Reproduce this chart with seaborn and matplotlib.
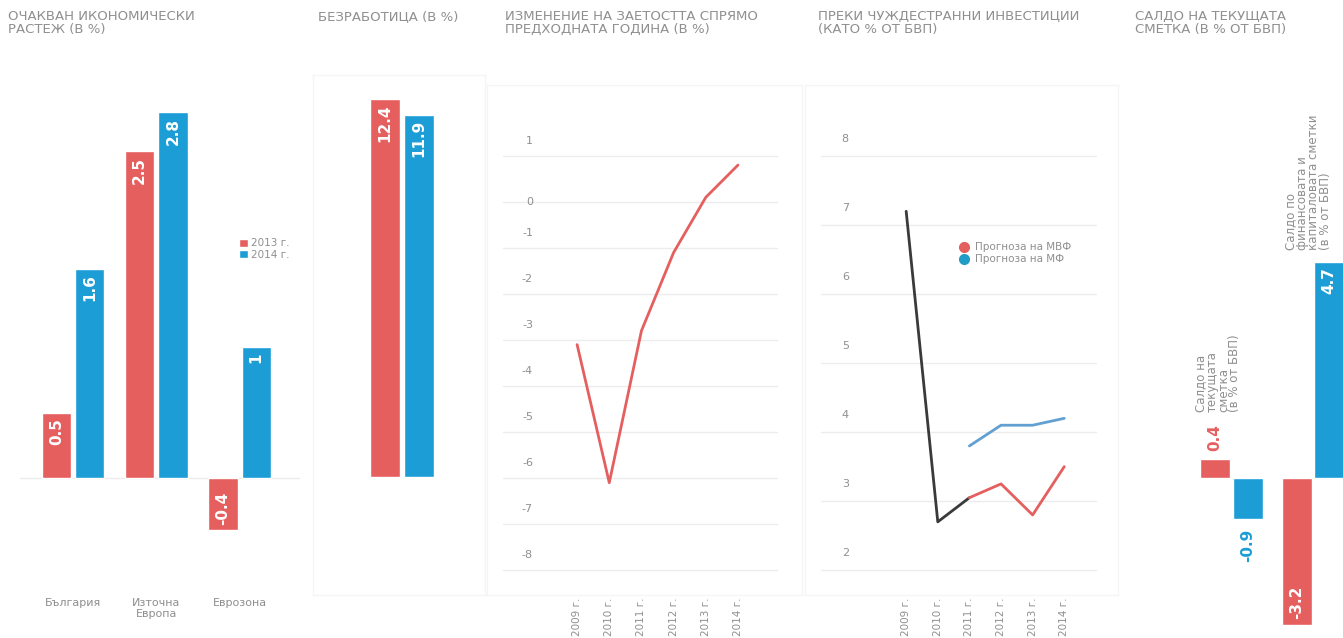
"""
Bulgaria macro indicators - five small panels (growth, unemployment, employment, FDI, current account)
"""

import pandas as pd
import numpy as np
import matplotlib
matplotlib.use('Agg')
import matplotlib.pyplot as plt
from matplotlib.lines import Line2D
import seaborn as sns

# ---- data -------------------------------------------------------------
years_bar = ['2013 г.', '2014 г.']

regions = ['България', 'Източна\nЕвропа', 'Еврозона']
growth_2013 = [0.5, 2.5, -0.4]
growth_2014 = [1.6, 2.8, 1.0]

unemployment = [12.4, 11.9]

years = [2009, 2010, 2011, 2012, 2013, 2014]
year_labels = ['2009 г.', '2010 г.', '2011 г.', '2012 г.', '2013 г.', '2014 г.']
employment_change = [-3.1, -6.1, -2.8, -1.1, 0.1, 0.8]
employment_ticks = [1, 0, -1, -2, -3, -4, -5, -6, -7, -8]

fdi_actual_years = [2009, 2010, 2011]
fdi_actual = [7.2, 2.7, 3.05]
fdi_forecast_years = [2011, 2012, 2013, 2014]
fdi_imf = [3.05, 3.25, 2.8, 3.5]
fdi_mf = [3.8, 4.1, 4.1, 4.2]
fdi_ticks = [8, 7, 6, 5, 4, 3, 2]

balance_groups = ['Салдо на\nтекущата\nсметка\n(в % от БВП)',
                  'Салдо по\nфинансовата и\nкапиталовата сметки\n(в % от БВП)']
balance_red = [0.4, -3.2]
balance_blue = [-0.9, 4.7]

titles = ['ОЧАКВАН ИКОНОМИЧЕСКИ\nРАСТЕЖ (В %)',
          'БЕЗРАБОТИЦА (В %)',
          'ИЗМЕНЕНИЕ НА ЗАЕТОСТТА СПРЯМО\nПРЕДХОДНАТА ГОДИНА (В %)',
          'ПРЕКИ ЧУЖДЕСТРАННИ ИНВЕСТИЦИИ\n(КАТО % ОТ БВП)',
          'САЛДО НА ТЕКУЩАТА\nСМЕТКА (В % ОТ БВП)']

# ---- style ------------------------------------------------------------
RED = '#e55f5f'
BLUE = '#1c9dd6'
LINE_BLUE = '#62a0d2'
DARK = '#3a3a3a'
GREY = '#8f8f8f'
GRID = '#ececec'
BOX = '#f5f5f5'

sns.set_theme(style='white')
plt.rcParams['font.family'] = ['DejaVu Sans']

W, H = 1343, 638
fig = plt.figure(figsize=(W / 100, H / 100), dpi=100)
fig.patch.set_facecolor('white')


def add_ax(left, top, right, bottom):
    """axes from pixel box"""
    return fig.add_axes([left / W, 1 - bottom / H, (right - left) / W, (bottom - top) / H])


def clean(ax, box=False):
    for s in ax.spines.values():
        s.set_visible(box)
        s.set_color(BOX)
        s.set_linewidth(1)
    ax.set_xlabel('')
    ax.set_ylabel('')
    ax.set_yticks([])
    ax.tick_params(length=0)
    ax.set_facecolor('none')


def label_bars(ax, inside_color='white', size=11):
    for cont in ax.containers:
        for bar in cont:
            h = bar.get_height()
            x = bar.get_x() + bar.get_width() / 2
            if h >= 0:
                ax.annotate(f'{h:g}', (x, h), xytext=(0, -4), textcoords='offset points',
                            rotation=90, ha='center', va='top', color=inside_color,
                            fontsize=size, fontweight='bold')
            else:
                ax.annotate(f'{h:g}', (x, h), xytext=(0, 4), textcoords='offset points',
                            rotation=90, ha='center', va='bottom', color=inside_color,
                            fontsize=size, fontweight='bold')


# ---- titles -----------------------------------------------------------
title_x = [8, 318, 505, 818, 1135]
for tx, t in zip(title_x, titles):
    fig.text(tx / W, 1 - 10 / H, t, ha='left', va='top', fontsize=9.5,
             color=GREY, linespacing=1.0)

# ---- panel 1: growth --------------------------------------------------
growth_df = pd.DataFrame({
    'region': regions * 2,
    'year': [years_bar[0]] * 3 + [years_bar[1]] * 3,
    'value': growth_2013 + growth_2014,
})
ax1 = add_ax(20, 80, 300, 560)
sns.barplot(data=growth_df, x='region', y='value', hue='year', palette=[RED, BLUE],
            width=0.8, gap=0.12, saturation=1, ax=ax1)
ax1.axhline(0, color=GRID, lw=1, zorder=0)
clean(ax1)
ax1.set_xlim(-0.636, 2.726)
ax1.set_ylim(-0.627, 3.045)
ax1.tick_params(axis='x', pad=27, labelsize=8, labelcolor=GREY)
label_bars(ax1)
sns.move_legend(ax1, 'center left', bbox_to_anchor=(0.75, 0.648), title=None,
                frameon=False, fontsize=7.5, handlelength=0.8, handleheight=0.8,
                handletextpad=0.3, labelspacing=0.15, labelcolor=GREY)

# ---- panel 2: unemployment --------------------------------------------
unemp_df = pd.DataFrame({'cat': ['БГ', 'БГ'], 'year': years_bar, 'value': unemployment})
ax2 = add_ax(313, 75, 485, 595)
sns.barplot(data=unemp_df, x='cat', y='value', hue='year', palette=[RED, BLUE],
            width=0.8, gap=0.12, saturation=1, legend=False, ax=ax2)
clean(ax2, box=True)
ax2.set_xticks([])
ax2.set_xlim(-1.047, 0.976)
ax2.set_ylim(-3.87, 13.2)
label_bars(ax2)

# ---- panel 3: employment change ---------------------------------------
ax3 = add_ax(487, 85, 802, 595)
sns.lineplot(x=years, y=employment_change, color=RED, lw=2, ax=ax3)
clean(ax3, box=True)
ax3.set_xlim(2006.2, 2015.99)
ax3.set_ylim(-8.54, 2.54)
for v in employment_ticks:
    ax3.axhline(v, xmin=0.05, xmax=0.92, color=GRID, lw=1, zorder=0)
    off = 0 if v == 0 else 11
    ax3.annotate(f'{v}', (0.146, v), xycoords=ax3.get_yaxis_transform(),
                 xytext=(0, off), textcoords='offset points', ha='right', va='center',
                 fontsize=8, color=GREY)
ax3.set_xticks(years)
ax3.set_xticklabels(year_labels, rotation=90, va='top')
ax3.tick_params(axis='x', pad=2, labelsize=7.5, labelcolor=GREY)

# ---- panel 4: FDI -----------------------------------------------------
fdi_df = pd.DataFrame({
    'year': fdi_actual_years + fdi_forecast_years + fdi_forecast_years,
    'value': fdi_actual + fdi_imf + fdi_mf,
    'series': ['Факт'] * 3 + ['Прогноза на МВФ'] * 4 + ['Прогноза на МФ'] * 4,
})
ax4 = add_ax(805, 85, 1118, 595)
sns.lineplot(data=fdi_df, x='year', y='value', hue='series',
             palette={'Факт': DARK, 'Прогноза на МВФ': RED, 'Прогноза на МФ': LINE_BLUE},
             lw=2, legend=False, ax=ax4)
clean(ax4, box=True)
ax4.set_xlim(2005.8, 2015.7)
ax4.set_ylim(1.64, 9.03)
for v in fdi_ticks:
    ax4.axhline(v, xmin=0.05, xmax=0.93, color=GRID, lw=1, zorder=0)
    ax4.annotate(f'{v}', (0.14, v), xycoords=ax4.get_yaxis_transform(),
                 xytext=(0, 12), textcoords='offset points', ha='right', va='center',
                 fontsize=8, color=GREY)
ax4.set_xticks(years)
ax4.set_xticklabels(year_labels, rotation=90, va='top')
ax4.tick_params(axis='x', pad=2, labelsize=7.5, labelcolor=GREY)
handles = [Line2D([], [], marker='o', ls='', color=RED, markersize=7),
           Line2D([], [], marker='o', ls='', color='#1f9cc7', markersize=7)]
ax4.legend(handles, ['Прогноза на МВФ', 'Прогноза на МФ'], loc='center left',
           bbox_to_anchor=(0.46, 0.67), frameon=False, fontsize=7.5,
           handletextpad=0.1, labelspacing=0.2, labelcolor=GREY, borderaxespad=0)

# ---- panel 5: current account -----------------------------------------
bal_df = pd.DataFrame({
    'group': balance_groups * 2,
    'year': [years_bar[0]] * 2 + [years_bar[1]] * 2,
    'value': balance_red + balance_blue,
})
ax5 = add_ax(1150, 60, 1343, 634)
sns.barplot(data=bal_df, x='group', y='value', hue='year', palette=[RED, BLUE],
            width=0.8, gap=0.08, saturation=1, legend=False, ax=ax5)
clean(ax5)
ax5.set_xticks([])
ax5.set_xlim(-1.0, 1.368)
ax5.set_ylim(-3.4, 9.09)

red_bars, blue_bars = ax5.containers[0], ax5.containers[1]
# current account: values outside the bars, coloured
b = red_bars[0]
ax5.annotate(f'{b.get_height():g}', (b.get_x() + b.get_width() / 2, b.get_height()),
             xytext=(0, 6), textcoords='offset points', rotation=90, ha='center',
             va='bottom', color=RED, fontsize=11, fontweight='bold')
b = blue_bars[0]
ax5.annotate(f'{b.get_height():g}', (b.get_x() + b.get_width() / 2, b.get_height()),
             xytext=(0, -7), textcoords='offset points', rotation=90, ha='center',
             va='top', color=BLUE, fontsize=11, fontweight='bold')
# financial account: values inside, white
for b in [red_bars[1], blue_bars[1]]:
    h = b.get_height()
    ax5.annotate(f'{h:g}', (b.get_x() + b.get_width() / 2, h),
                 xytext=(0, -4 if h > 0 else 4), textcoords='offset points', rotation=90,
                 ha='center', va='top' if h > 0 else 'bottom', color='white',
                 fontsize=11, fontweight='bold')

ax5.text(-0.17, 1.43, balance_groups[0], rotation=90, ha='center', va='bottom',
         multialignment='left', fontsize=8.5, color=GREY, linespacing=0.85)
ax5.text(0.94, 4.96, balance_groups[1], rotation=90, ha='center', va='bottom',
         multialignment='left', fontsize=8.5, color=GREY, linespacing=0.85)

plt.savefig('out.png', dpi=100, facecolor='white')
